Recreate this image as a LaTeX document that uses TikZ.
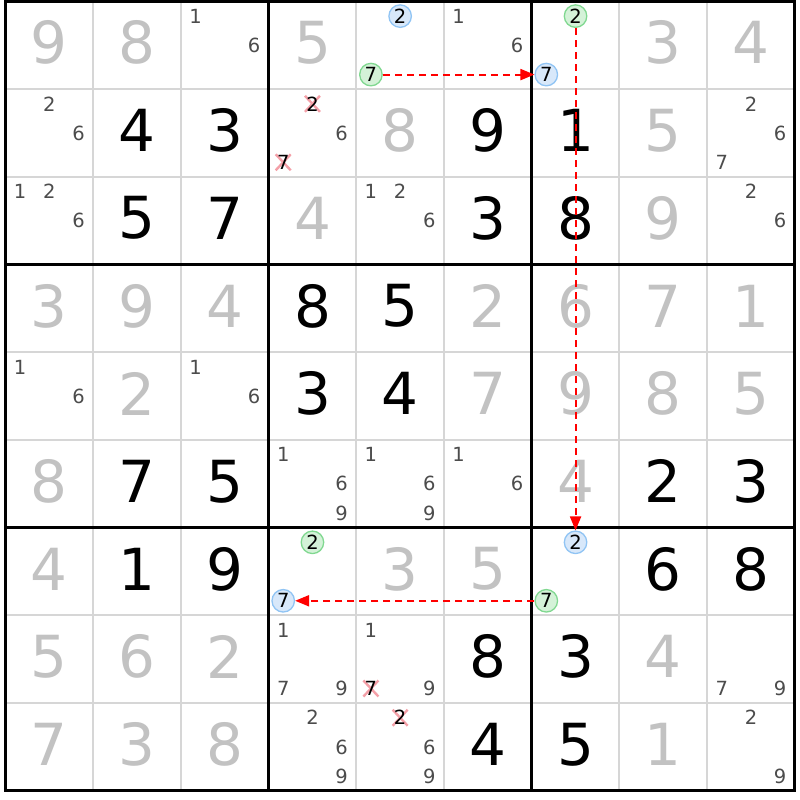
\documentclass[tikz,border=0pt]{standalone}
\usepackage{fontspec}
\setmainfont{DejaVu Sans}
\usetikzlibrary{arrows.meta}
\definecolor{givengray}{HTML}{C2C2C2}
\definecolor{candgray}{HTML}{4C4C4C}
\definecolor{gridgray}{HTML}{D6D6D6}
\definecolor{bluefill}{HTML}{D8E8FA}
\definecolor{bluedraw}{HTML}{90C4F4}
\definecolor{greenfill}{HTML}{D4F2D8}
\definecolor{greendraw}{HTML}{80D890}
\definecolor{crosspink}{HTML}{F4A0A8}
\definecolor{linkred}{HTML}{FF0000}
\begin{document}
\begin{tikzpicture}[x=1pt,y=-1pt,
  given/.style={inner sep=0pt, text=givengray, font=\fontsize{58}{58}\selectfont},
  placed/.style={inner sep=0pt, text=black, font=\fontsize{58}{58}\selectfont},
  cand/.style={inner sep=0pt, text=candgray, font=\fontsize{19.5}{19.5}\selectfont},
  crossed/.style={inner sep=0pt, text=black, font=\fontsize{19.5}{19.5}\selectfont},
  crossline/.style={draw=crosspink, line width=2.4pt},
  bluemark/.style={circle, draw=bluedraw, fill=bluefill, line width=1.3pt, minimum size=22.5pt, inner sep=0pt, text=black, font=\fontsize{19.5}{19.5}\selectfont},
  greenmark/.style={circle, draw=greendraw, fill=greenfill, line width=1.3pt, minimum size=22.5pt, inner sep=0pt, text=black, font=\fontsize{19.5}{19.5}\selectfont},
  thinline/.style={draw=gridgray, line width=2pt},
  thickline/.style={draw=black, line width=3pt, line cap=rect},
  link/.style={draw=linkred, line width=2pt, dash pattern=on 7pt off 5pt, -{Triangle[length=14pt,width=11pt]}}
]
\useasboundingbox (0,0) rectangle (800,800);
\fill[white] (0,0) rectangle (800,800);
% thin grid lines
\foreach \i in {1,2,4,5,7,8} {
  \draw[thinline] ({5.5+87.7*\i},1.5) -- ({5.5+87.7*\i},790.8);
  \draw[thinline] (5.5,{1.5+87.7*\i}) -- (794.8,{1.5+87.7*\i});
}
% thick grid lines
\foreach \i in {0,3,6,9} {
  \draw[thickline] ({5.5+87.7*\i},1.5) -- ({5.5+87.7*\i},790.8);
  \draw[thickline] (5.5,{1.5+87.7*\i}) -- (794.8,{1.5+87.7*\i});
}
% given digits (gray)
\foreach \r/\c/\d in {0/0/9,0/1/8,0/3/5,0/7/3,0/8/4,
  1/4/8,1/7/5,2/3/4,2/7/9,
  3/0/3,3/1/9,3/2/4,3/5/2,3/6/6,3/7/7,3/8/1,
  4/1/2,4/5/7,4/6/9,4/7/8,4/8/5,
  5/0/8,5/6/4,
  6/0/4,6/4/3,6/5/5,
  7/0/5,7/1/6,7/2/2,7/7/4,
  8/0/7,8/1/3,8/2/8,8/7/1}
  \node[given] (g\r\c) at ({5.5+87.7*(\c+0.5)},{1.5+87.7*(\r+0.5)-2.5}) {\d};
% placed digits (black)
\foreach \r/\c/\d in {1/1/4,1/2/3,1/5/9,1/6/1,
  2/1/5,2/2/7,2/5/3,2/6/8,
  3/3/8,3/4/5,4/3/3,4/4/4,
  5/1/7,5/2/5,5/7/2,5/8/3,
  6/1/1,6/2/9,6/7/6,6/8/8,
  7/5/8,7/6/3,8/5/4,8/6/5}
  \node[placed] (p\r\c) at ({5.5+87.7*(\c+0.5)},{1.5+87.7*(\r+0.5)-2.5}) {\d};
% candidates
\foreach \r/\c/\n in {0/2/1,0/2/6,0/5/1,0/5/6,
  1/0/2,1/0/6,1/3/6,1/8/2,1/8/6,1/8/7,
  2/0/1,2/0/2,2/0/6,2/4/1,2/4/2,2/4/6,2/8/2,2/8/6,
  4/0/1,4/0/6,4/2/1,4/2/6,
  5/3/1,5/3/6,5/3/9,5/4/1,5/4/6,5/4/9,5/5/1,5/5/6,
  7/3/1,7/3/7,7/3/9,7/4/1,7/4/9,7/8/7,7/8/9,
  8/3/2,8/3/6,8/3/9,8/4/6,8/4/9,8/8/2,8/8/9}
  \node[cand] (k\r\c\n) at ({5.5+87.7*(\c+0.5)+29.23*(mod(\n-1,3)-1)},{1.5+87.7*(\r+0.5)+29.23*(int((\n-1)/3)-1)}) {\n};
% eliminated candidates
\foreach \r/\c/\n in {1/3/2,1/3/7,7/4/7,8/4/2} {
  \coordinate (x\r\c\n) at ({5.5+87.7*(\c+0.5)+29.23*(mod(\n-1,3)-1)},{1.5+87.7*(\r+0.5)+29.23*(int((\n-1)/3)-1)});
  \draw[crossline] ([xshift=-7.5pt,yshift=-8pt]x\r\c\n) -- ([xshift=7.5pt,yshift=8pt]x\r\c\n);
  \draw[crossline] ([xshift=-7.5pt,yshift=8pt]x\r\c\n) -- ([xshift=7.5pt,yshift=-8pt]x\r\c\n);
  \node[crossed] (e\r\c\n) at (x\r\c\n) {\n};
}
% marked candidates
\foreach \r/\c/\n/\s in {0/4/2/bluemark,0/4/7/greenmark,
  0/6/2/greenmark,0/6/7/bluemark,
  6/3/2/greenmark,6/3/7/bluemark,
  6/6/2/bluemark,6/6/7/greenmark}
  \node[\s] (m\r\c\n) at ({5.5+87.7*(\c+0.5)+29.23*(mod(\n-1,3)-1)},{1.5+87.7*(\r+0.5)+29.23*(int((\n-1)/3)-1)}) {\n};
% links
\draw[link] (m047) -- (m067);
\draw[link] (m062) -- (m662);
\draw[link] (m667) -- (m637);
\end{tikzpicture}
\end{document}
